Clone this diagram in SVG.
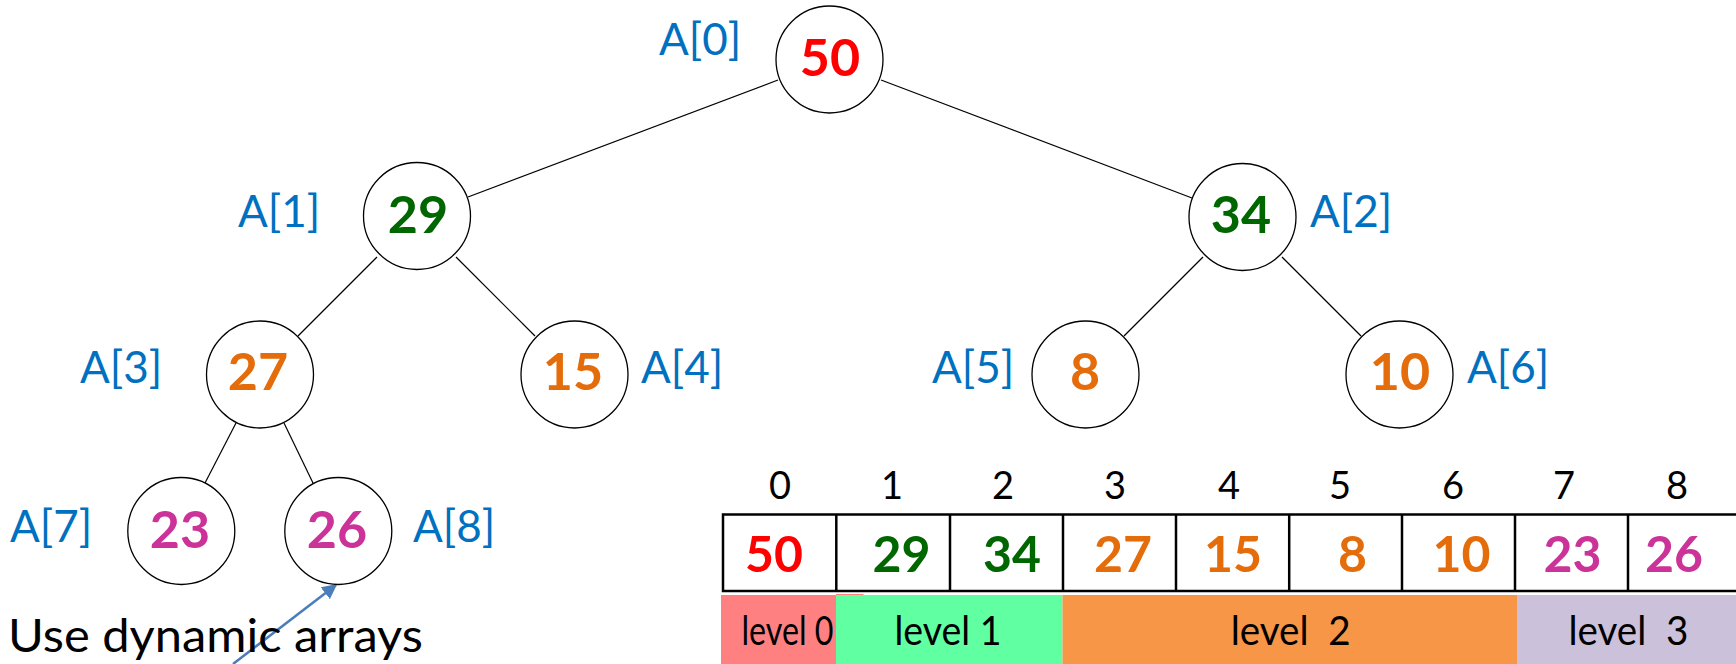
<svg xmlns="http://www.w3.org/2000/svg" width="1736" height="664" viewBox="0 0 1736 664">
  <style>
    .node { fill: #ffffff; stroke: #000000; stroke-width: 1.3; }
    .val { font-family: Lato, "Open Sans", sans-serif; font-weight: bold; font-size: 52px; text-anchor: middle; }
    .lbl { font-family: Lato, "Open Sans", sans-serif; font-size: 44px; fill: #0070c0; text-anchor: middle; }
    .edge { stroke: #000000; stroke-width: 1.2; fill: none; }
    .idx { font-family: Lato, "Open Sans", sans-serif; font-size: 38px; fill: #000000; text-anchor: middle; }
    .cell { font-family: Lato, "Open Sans", sans-serif; font-weight: bold; font-size: 50px; text-anchor: middle; }
    .lvl { font-family: Lato, "Open Sans", sans-serif; font-size: 40px; fill: #000000; text-anchor: middle; }
    .red { fill: #ff0000; }
    .green { fill: #006600; }
    .orange { fill: #e46c0a; }
    .pink { fill: #cc3399; }
  </style>
  <defs>
    <marker id="arrowhead" viewBox="0 0 10 10" refX="9" refY="5" markerWidth="6" markerHeight="6" markerUnits="strokeWidth" orient="auto">
      <path d="M0,0 L10,5 L0,10 z" fill="#4a7ebb"/>
    </marker>
  </defs>

  <rect width="1736" height="664" fill="#ffffff"/>

  <!-- tree edges -->
  <g id="connectors">
    <line class="edge" x1="778" y1="80" x2="468" y2="197"/>
    <line class="edge" x1="881" y1="80" x2="1192" y2="198"/>
    <line class="edge" x1="377" y1="257" x2="298" y2="336"/>
    <line class="edge" x1="456" y1="257" x2="535" y2="336"/>
    <line class="edge" x1="1203" y1="257" x2="1124" y2="336"/>
    <line class="edge" x1="1282" y1="257" x2="1361" y2="336"/>
    <line class="edge" x1="236" y1="423" x2="205" y2="483"/>
    <line class="edge" x1="284" y1="423" x2="313" y2="483"/>
    <line x1="233" y1="664" x2="336" y2="585" stroke="#4a7ebb" stroke-width="2.5" marker-end="url(#arrowhead)"/>
  </g>

  <!-- heap nodes -->
  <g id="node-a0">
    <circle class="node" cx="829.5" cy="59.5" r="53.5"/>
    <text class="val red" x="830" y="76">50</text>
    <text class="lbl" x="700" y="55">A[0]</text>
  </g>
  <g id="node-a1">
    <circle class="node" cx="417" cy="216" r="53.5"/>
    <text class="val green" x="418" y="233">29</text>
    <text class="lbl" x="279" y="227">A[1]</text>
  </g>
  <g id="node-a2">
    <circle class="node" cx="1242.5" cy="217" r="53.5"/>
    <text class="val green" x="1241" y="233">34</text>
    <text class="lbl" x="1351" y="227">A[2]</text>
  </g>
  <g id="node-a3">
    <circle class="node" cx="260" cy="374.5" r="53.5"/>
    <text class="val orange" x="258" y="390">27</text>
    <text class="lbl" x="121" y="383">A[3]</text>
  </g>
  <g id="node-a4">
    <circle class="node" cx="574.5" cy="374.5" r="53.5"/>
    <text class="val orange" x="573" y="390">15</text>
    <text class="lbl" x="682" y="383">A[4]</text>
  </g>
  <g id="node-a5">
    <circle class="node" cx="1085.5" cy="374.5" r="53.5"/>
    <text class="val orange" x="1085" y="390">8</text>
    <text class="lbl" x="973" y="383">A[5]</text>
  </g>
  <g id="node-a6">
    <circle class="node" cx="1399.5" cy="374.5" r="53.5"/>
    <text class="val orange" x="1400" y="390">10</text>
    <text class="lbl" x="1508" y="383">A[6]</text>
  </g>
  <g id="node-a7">
    <circle class="node" cx="181.3" cy="531" r="53.5"/>
    <text class="val pink" x="180" y="548">23</text>
    <text class="lbl" x="51" y="542">A[7]</text>
  </g>
  <g id="node-a8">
    <circle class="node" cx="338.3" cy="531" r="53.5"/>
    <text class="val pink" x="337" y="548">26</text>
    <text class="lbl" x="454" y="542">A[8]</text>
  </g>

  <!-- caption -->
  <g id="caption">
    <text x="8" y="652" font-family="Lato, 'Open Sans', sans-serif" font-size="47" fill="#000000" textLength="415" lengthAdjust="spacingAndGlyphs">Use dynamic arrays</text>
  </g>

  <!-- array storage -->
  <g id="array">
    <g class="idx">
      <text x="780" y="499">0</text>
      <text x="892" y="499">1</text>
      <text x="1003" y="499">2</text>
      <text x="1115" y="499">3</text>
      <text x="1229" y="499">4</text>
      <text x="1340" y="499">5</text>
      <text x="1453" y="499">6</text>
      <text x="1564" y="499">7</text>
      <text x="1677" y="499">8</text>
    </g>
    <rect x="723" y="514.5" width="1018" height="76.5" fill="#ffffff" stroke="#000000" stroke-width="2.5"/>
    <g stroke="#000000" stroke-width="2.5">
      <line x1="836.3" y1="514.5" x2="836.3" y2="591"/>
      <line x1="950" y1="514.5" x2="950" y2="591"/>
      <line x1="1063" y1="514.5" x2="1063" y2="591"/>
      <line x1="1176" y1="514.5" x2="1176" y2="591"/>
      <line x1="1289.2" y1="514.5" x2="1289.2" y2="591"/>
      <line x1="1402" y1="514.5" x2="1402" y2="591"/>
      <line x1="1515" y1="514.5" x2="1515" y2="591"/>
      <line x1="1628" y1="514.5" x2="1628" y2="591"/>
    </g>
    <text class="cell red" x="774" y="572">50</text>
    <text class="cell green" x="901.5" y="572">29</text>
    <text class="cell green" x="1012" y="572">34</text>
    <text class="cell orange" x="1123" y="572">27</text>
    <text class="cell orange" x="1233" y="572">15</text>
    <text class="cell orange" x="1352.5" y="572">8</text>
    <text class="cell orange" x="1461.5" y="572">10</text>
    <text class="cell pink" x="1572.5" y="572">23</text>
    <text class="cell pink" x="1674" y="572">26</text>
  </g>

  <!-- level bands -->
  <g id="levels">
    <rect x="721" y="595" width="115" height="69" fill="#ff8080"/>
    <rect x="836" y="594" width="27.5" height="1.5" fill="#ff8080"/>
    <rect x="836" y="595" width="226.5" height="69" fill="#5fffa2"/>
    <rect x="1062.5" y="595" width="454.5" height="69" fill="#f79646"/>
    <rect x="1517" y="595" width="219" height="69" fill="#ccc1da"/>
    <text class="lvl" x="787.5" y="645" textLength="92" lengthAdjust="spacingAndGlyphs">level 0</text>
    <text class="lvl" x="948" y="645" textLength="107" lengthAdjust="spacingAndGlyphs">level 1</text>
    <text class="lvl" x="1290.7" y="645" textLength="120" lengthAdjust="spacingAndGlyphs" xml:space="preserve">level  2</text>
    <text class="lvl" x="1628.4" y="645" textLength="120" lengthAdjust="spacingAndGlyphs" xml:space="preserve">level  3</text>
  </g>
</svg>
